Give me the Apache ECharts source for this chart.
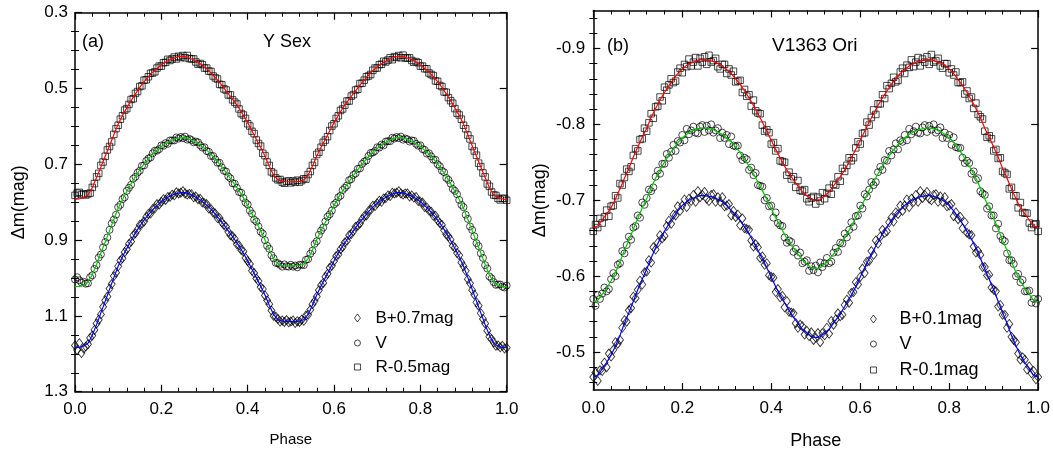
<!DOCTYPE html>
<html>
<head>
<meta charset="utf-8">
<script src="https://cdn.jsdelivr.net/npm/echarts@6/dist/echarts.min.js"></script>
<style>html,body{margin:0;padding:0;background:#fff}#c{width:1053px;height:456px}</style>
</head>
<body>
<div id="c"></div>
<script>
// ---------- DATA ----------
const phaseLine = [0,0.01,0.02,0.03,0.04,0.05,0.06,0.07,0.08,0.09,0.1,0.11,0.12,0.13,0.14,0.15,0.16,0.17,0.18,0.19,0.2,0.21,0.22,0.23,0.24,0.25,0.26,0.27,0.28,0.29,0.3,0.31,0.32,0.33,0.34,0.35,0.36,0.37,0.38,0.39,0.4,0.41,0.42,0.43,0.44,0.45,0.46,0.47,0.48,0.49,0.5,0.51,0.52,0.53,0.54,0.55,0.56,0.57,0.58,0.59,0.6,0.61,0.62,0.63,0.64,0.65,0.66,0.67,0.68,0.69,0.7,0.71,0.72,0.73,0.74,0.75,0.76,0.77,0.78,0.79,0.8,0.81,0.82,0.83,0.84,0.85,0.86,0.87,0.88,0.89,0.9,0.91,0.92,0.93,0.94,0.95,0.96,0.97,0.98,0.99,1];

const phasePts = [
0,0.005,0.01,0.015,0.02,0.025,0.03,0.035,0.04,0.045,0.05,0.055,0.06,0.065,0.07,0.075,0.08,0.085,0.09,0.095,
0.1,0.105,0.11,0.115,0.12,0.125,0.13,0.135,0.14,0.145,0.15,0.155,0.16,0.165,0.17,0.175,0.18,0.185,0.19,0.195,
0.2,0.205,0.21,0.215,0.22,0.225,0.23,0.235,0.24,0.245,0.25,0.255,0.26,0.265,0.27,0.275,0.28,0.285,0.29,0.295,
0.3,0.305,0.31,0.315,0.32,0.325,0.33,0.335,0.34,0.345,0.35,0.355,0.36,0.365,0.37,0.375,0.38,0.385,0.39,0.395,
0.4,0.405,0.41,0.415,0.42,0.425,0.43,0.435,0.44,0.445,0.45,0.455,0.46,0.465,0.47,0.475,0.48,0.485,0.49,0.495,
0.5,0.505,0.51,0.515,0.52,0.525,0.53,0.535,0.54,0.545,0.55,0.555,0.56,0.565,0.57,0.575,0.58,0.585,0.59,0.595,
0.6,0.605,0.61,0.615,0.62,0.625,0.63,0.635,0.64,0.645,0.65,0.655,0.66,0.665,0.67,0.675,0.68,0.685,0.69,0.695,
0.7,0.705,0.71,0.715,0.72,0.725,0.73,0.735,0.74,0.745,0.75,0.755,0.76,0.765,0.77,0.775,0.78,0.785,0.79,0.795,
0.8,0.805,0.81,0.815,0.82,0.825,0.83,0.835,0.84,0.845,0.85,0.855,0.86,0.865,0.87,0.875,0.88,0.885,0.89,0.895,
0.9,0.905,0.91,0.915,0.92,0.925,0.93,0.935,0.94,0.945,0.95,0.955,0.96,0.965,0.97,0.975,0.98,0.985,0.99,0.995,
1];

// Panel (a) Y Sex — fitted curves
const aRLine = [0.792,0.791,0.788,0.781,0.762,0.735,0.707,0.679,0.651,0.622,0.594,0.571,0.551,0.532,0.514,0.497,0.482,0.469,0.457,0.447,0.438,0.430,0.424,0.420,0.416,0.415,0.417,0.422,0.428,0.435,0.443,0.453,0.465,0.478,0.491,0.506,0.521,0.536,0.552,0.571,0.590,0.612,0.634,0.655,0.678,0.705,0.728,0.741,0.745,0.746,0.746,
0.746,0.745,0.741,0.728,0.705,0.678,0.655,0.634,0.612,0.590,0.571,0.552,0.536,0.521,0.506,0.491,0.478,0.465,0.453,0.443,0.435,0.428,0.422,0.417,0.415,0.416,0.420,0.424,0.430,0.438,0.447,0.457,0.469,0.482,0.497,0.514,0.532,0.551,0.571,0.594,0.622,0.651,0.679,0.707,0.735,0.762,0.781,0.788,0.791,0.793];
const aVLine = [1.023,1.022,1.019,1.011,0.992,0.964,0.934,0.905,0.875,0.845,0.816,0.793,0.772,0.751,0.732,0.715,0.699,0.685,0.673,0.663,0.653,0.645,0.639,0.634,0.631,0.629,0.631,0.636,0.642,0.649,0.658,0.668,0.680,0.693,0.707,0.722,0.738,0.753,0.770,0.788,0.809,0.831,0.853,0.875,0.899,0.926,0.949,0.963,0.967,0.968,0.968,
0.968,0.967,0.963,0.949,0.926,0.899,0.875,0.853,0.831,0.809,0.788,0.770,0.753,0.738,0.722,0.707,0.693,0.680,0.668,0.658,0.649,0.642,0.636,0.631,0.629,0.631,0.634,0.639,0.645,0.653,0.663,0.673,0.685,0.699,0.715,0.732,0.751,0.772,0.793,0.816,0.845,0.875,0.905,0.934,0.964,0.992,1.011,1.019,1.022,1.023];
const aBLine = [1.184,1.183,1.180,1.172,1.151,1.123,1.092,1.061,1.030,0.999,0.969,0.944,0.922,0.901,0.881,0.863,0.847,0.833,0.820,0.809,0.799,0.790,0.784,0.779,0.776,0.774,0.776,0.781,0.787,0.795,0.803,0.813,0.825,0.839,0.852,0.868,0.883,0.899,0.916,0.934,0.955,0.977,0.999,1.021,1.045,1.072,1.096,1.110,1.114,1.115,1.115,
1.115,1.114,1.110,1.096,1.072,1.045,1.021,0.999,0.977,0.955,0.934,0.916,0.899,0.883,0.868,0.852,0.839,0.825,0.813,0.803,0.795,0.787,0.781,0.776,0.774,0.776,0.779,0.784,0.790,0.799,0.809,0.820,0.833,0.847,0.863,0.881,0.901,0.922,0.944,0.969,0.999,1.030,1.061,1.092,1.123,1.151,1.172,1.180,1.183,1.184];

// Panel (a) observations
const aRPts = [
0.782,0.776,0.774,0.780,0.778,0.781,0.778,0.776,0.761,0.751,0.733,0.724,0.703,0.694,0.679,0.662,0.653,0.641,0.621,0.606,
0.597,0.581,0.572,0.557,0.553,0.542,0.529,0.527,0.513,0.508,0.495,0.493,0.478,0.477,0.469,0.460,0.459,0.456,0.446,0.441,
0.441,0.432,0.431,0.423,0.426,0.422,0.417,0.422,0.415,0.418,0.413,0.419,0.413,0.421,0.422,0.422,0.430,0.436,0.434,0.437,
0.446,0.446,0.454,0.455,0.467,0.472,0.475,0.489,0.490,0.501,0.504,0.517,0.517,0.530,0.536,0.541,0.554,0.566,0.570,0.579,
0.593,0.599,0.613,0.619,0.636,0.645,0.652,0.671,0.677,0.694,0.703,0.720,0.724,0.736,0.741,0.740,0.747,0.750,0.745,0.744,
0.749,0.744,0.747,0.742,0.747,0.743,0.738,0.739,0.727,0.719,0.703,0.695,0.674,0.668,0.655,0.642,0.636,0.627,0.611,0.599,
0.593,0.579,0.572,0.558,0.554,0.544,0.533,0.533,0.520,0.516,0.504,0.502,0.487,0.486,0.478,0.469,0.467,0.463,0.452,0.446,
0.446,0.437,0.436,0.428,0.430,0.425,0.419,0.424,0.416,0.418,0.413,0.419,0.412,0.419,0.420,0.419,0.426,0.431,0.429,0.432,
0.441,0.441,0.448,0.448,0.459,0.463,0.466,0.480,0.481,0.492,0.495,0.509,0.510,0.524,0.532,0.539,0.553,0.565,0.570,0.581,
0.597,0.606,0.623,0.633,0.653,0.665,0.676,0.697,0.706,0.723,0.733,0.752,0.758,0.773,0.781,0.782,0.790,0.794,0.790,0.790,
0.795];
const aVPts = [
1.004,0.998,1.006,1.012,1.010,1.015,1.014,0.998,0.993,0.976,0.966,0.946,0.938,0.919,0.905,0.893,0.873,0.856,0.846,0.833,
0.813,0.807,0.792,0.787,0.770,0.762,0.754,0.738,0.733,0.722,0.717,0.704,0.703,0.691,0.685,0.682,0.671,0.664,0.664,0.660,
0.650,0.651,0.644,0.646,0.637,0.637,0.637,0.629,0.632,0.628,0.631,0.627,0.635,0.633,0.636,0.642,0.640,0.642,0.650,0.656,
0.655,0.665,0.667,0.678,0.678,0.687,0.696,0.696,0.708,0.717,0.719,0.732,0.737,0.750,0.751,0.762,0.773,0.775,0.789,0.801,
0.806,0.822,0.830,0.846,0.851,0.864,0.878,0.883,0.900,0.915,0.923,0.940,0.948,0.960,0.961,0.965,0.970,0.964,0.969,0.970,
0.965,0.970,0.967,0.972,0.965,0.965,0.966,0.952,0.950,0.936,0.928,0.910,0.903,0.886,0.875,0.867,0.851,0.838,0.832,0.822,
0.806,0.801,0.787,0.783,0.768,0.762,0.756,0.742,0.739,0.728,0.724,0.712,0.711,0.699,0.693,0.690,0.678,0.670,0.669,0.665,
0.655,0.656,0.648,0.650,0.640,0.639,0.639,0.630,0.632,0.628,0.631,0.627,0.635,0.632,0.634,0.640,0.637,0.638,0.646,0.651,
0.650,0.660,0.662,0.672,0.671,0.679,0.688,0.688,0.700,0.705,0.717,0.721,0.736,0.741,0.751,0.765,0.770,0.779,0.794,0.807,
0.813,0.833,0.844,0.864,0.873,0.890,0.908,0.916,0.935,0.947,0.966,0.975,0.996,1.001,1.011,1.018,1.017,1.017,1.023,1.025,
1.020];
const aBPts = [
1.178,1.190,1.172,1.198,1.186,1.181,1.175,1.158,1.152,1.137,1.120,1.110,1.096,1.076,1.059,1.049,1.028,1.016,0.995,0.986,
0.969,0.954,0.948,0.932,0.924,0.910,0.904,0.887,0.882,0.872,0.860,0.857,0.851,0.839,0.831,0.830,0.818,0.816,0.805,0.806,
0.799,0.792,0.794,0.786,0.786,0.780,0.782,0.774,0.777,0.775,0.771,0.777,0.780,0.778,0.779,0.787,0.785,0.792,0.791,0.801,
0.803,0.805,0.817,0.818,0.827,0.830,0.842,0.842,0.853,0.860,0.865,0.878,0.887,0.890,0.897,0.911,0.914,0.926,0.930,0.947,
0.955,0.963,0.981,0.987,1.001,1.008,1.024,1.029,1.046,1.059,1.069,1.086,1.100,1.102,1.108,1.115,1.112,1.116,1.111,1.117,
1.115,1.112,1.119,1.114,1.116,1.110,1.113,1.099,1.097,1.084,1.069,1.061,1.049,1.032,1.019,1.013,0.997,0.989,0.973,0.968,
0.955,0.942,0.938,0.924,0.918,0.906,0.902,0.887,0.884,0.876,0.865,0.862,0.856,0.845,0.837,0.835,0.823,0.820,0.809,0.810,
0.803,0.796,0.799,0.790,0.789,0.782,0.784,0.775,0.777,0.775,0.771,0.777,0.780,0.777,0.777,0.785,0.782,0.788,0.786,0.797,
0.799,0.801,0.813,0.814,0.822,0.825,0.836,0.836,0.848,0.855,0.860,0.874,0.885,0.890,0.899,0.915,0.920,0.934,0.940,0.959,
0.969,0.981,1.003,1.014,1.032,1.044,1.064,1.073,1.093,1.108,1.120,1.139,1.155,1.161,1.170,1.179,1.178,1.183,1.179,1.186,
1.184];

// Panel (b) V1363 Ori — fitted curves
const bRLine = [-0.664,-0.666,-0.674,-0.682,-0.690,-0.702,-0.715,-0.729,-0.742,-0.757,-0.770,-0.783,-0.795,-0.809,-0.821,-0.832,-0.842,-0.851,-0.859,-0.867,-0.873,-0.878,-0.881,-0.883,-0.885,-0.885,-0.884,-0.883,-0.880,-0.877,-0.872,-0.867,-0.860,-0.853,-0.844,-0.835,-0.825,-0.814,-0.803,-0.791,-0.779,-0.767,-0.756,-0.745,-0.735,-0.727,-0.719,-0.711,-0.706,-0.701,-0.700,
-0.701,-0.706,-0.711,-0.719,-0.727,-0.735,-0.745,-0.756,-0.767,-0.779,-0.791,-0.803,-0.814,-0.825,-0.835,-0.844,-0.853,-0.860,-0.867,-0.872,-0.877,-0.880,-0.883,-0.884,-0.885,-0.885,-0.883,-0.881,-0.878,-0.873,-0.867,-0.859,-0.851,-0.842,-0.832,-0.821,-0.809,-0.795,-0.783,-0.770,-0.757,-0.742,-0.729,-0.715,-0.702,-0.690,-0.682,-0.674,-0.666,-0.664];
const bVLine = [-0.566,-0.568,-0.576,-0.584,-0.594,-0.605,-0.619,-0.634,-0.647,-0.662,-0.676,-0.690,-0.702,-0.716,-0.729,-0.740,-0.750,-0.760,-0.768,-0.776,-0.782,-0.787,-0.791,-0.793,-0.795,-0.795,-0.794,-0.793,-0.790,-0.787,-0.782,-0.777,-0.770,-0.763,-0.754,-0.745,-0.735,-0.724,-0.713,-0.701,-0.689,-0.677,-0.666,-0.655,-0.645,-0.637,-0.629,-0.621,-0.616,-0.611,-0.610,
-0.611,-0.616,-0.621,-0.629,-0.637,-0.645,-0.655,-0.666,-0.677,-0.689,-0.701,-0.713,-0.724,-0.735,-0.745,-0.754,-0.763,-0.770,-0.777,-0.782,-0.787,-0.790,-0.793,-0.794,-0.795,-0.795,-0.793,-0.791,-0.787,-0.782,-0.776,-0.768,-0.760,-0.750,-0.740,-0.729,-0.716,-0.702,-0.690,-0.676,-0.662,-0.647,-0.634,-0.619,-0.605,-0.594,-0.584,-0.576,-0.568,-0.566];
const bBLine = [-0.467,-0.469,-0.478,-0.486,-0.496,-0.508,-0.522,-0.538,-0.552,-0.567,-0.582,-0.596,-0.609,-0.624,-0.637,-0.649,-0.659,-0.669,-0.678,-0.686,-0.693,-0.698,-0.702,-0.704,-0.706,-0.706,-0.705,-0.704,-0.701,-0.698,-0.693,-0.687,-0.681,-0.673,-0.665,-0.656,-0.645,-0.634,-0.623,-0.611,-0.599,-0.586,-0.575,-0.565,-0.555,-0.546,-0.538,-0.530,-0.525,-0.520,-0.519,
-0.520,-0.525,-0.530,-0.538,-0.546,-0.555,-0.565,-0.575,-0.586,-0.599,-0.611,-0.623,-0.634,-0.645,-0.656,-0.665,-0.673,-0.681,-0.687,-0.693,-0.698,-0.701,-0.704,-0.705,-0.706,-0.706,-0.704,-0.702,-0.698,-0.693,-0.686,-0.678,-0.669,-0.659,-0.649,-0.637,-0.624,-0.609,-0.596,-0.582,-0.567,-0.552,-0.538,-0.522,-0.508,-0.496,-0.486,-0.478,-0.469,-0.467];

// Panel (b) observations
const bRPts = [
-0.659,-0.668,-0.664,-0.676,-0.670,-0.678,-0.687,-0.679,-0.692,-0.693,-0.706,-0.703,-0.722,-0.720,-0.730,-0.741,-0.738,-0.744,-0.759,-0.768,
-0.765,-0.780,-0.781,-0.795,-0.791,-0.802,-0.814,-0.808,-0.823,-0.824,-0.836,-0.831,-0.849,-0.845,-0.852,-0.860,-0.855,-0.857,-0.869,-0.874,
-0.868,-0.879,-0.876,-0.886,-0.877,-0.882,-0.888,-0.877,-0.887,-0.882,-0.889,-0.879,-0.891,-0.882,-0.884,-0.887,-0.876,-0.873,-0.879,-0.879,
-0.867,-0.873,-0.865,-0.870,-0.856,-0.857,-0.858,-0.842,-0.846,-0.837,-0.839,-0.824,-0.832,-0.818,-0.815,-0.814,-0.799,-0.791,-0.793,-0.789,
-0.774,-0.776,-0.765,-0.768,-0.752,-0.751,-0.750,-0.733,-0.737,-0.728,-0.731,-0.717,-0.726,-0.713,-0.712,-0.714,-0.702,-0.698,-0.703,-0.705,
-0.695,-0.704,-0.699,-0.710,-0.702,-0.709,-0.716,-0.708,-0.721,-0.720,-0.731,-0.725,-0.742,-0.738,-0.746,-0.756,-0.752,-0.756,-0.769,-0.777,
-0.774,-0.788,-0.789,-0.803,-0.799,-0.809,-0.819,-0.813,-0.827,-0.827,-0.839,-0.834,-0.851,-0.847,-0.854,-0.862,-0.856,-0.858,-0.869,-0.874,
-0.867,-0.878,-0.875,-0.885,-0.876,-0.882,-0.888,-0.877,-0.886,-0.882,-0.889,-0.879,-0.892,-0.882,-0.884,-0.887,-0.877,-0.874,-0.880,-0.880,
-0.868,-0.873,-0.865,-0.869,-0.855,-0.855,-0.856,-0.840,-0.844,-0.834,-0.836,-0.821,-0.828,-0.813,-0.810,-0.807,-0.791,-0.783,-0.785,-0.781,
-0.765,-0.767,-0.755,-0.756,-0.738,-0.736,-0.734,-0.715,-0.717,-0.706,-0.706,-0.690,-0.697,-0.684,-0.683,-0.683,-0.670,-0.664,-0.668,-0.669,
-0.659];
const bVPts = [
-0.570,-0.561,-0.575,-0.570,-0.577,-0.585,-0.580,-0.583,-0.596,-0.604,-0.600,-0.615,-0.617,-0.633,-0.630,-0.641,-0.652,-0.648,-0.664,-0.666,
-0.680,-0.677,-0.697,-0.694,-0.703,-0.714,-0.712,-0.717,-0.731,-0.739,-0.735,-0.748,-0.748,-0.761,-0.756,-0.764,-0.773,-0.765,-0.778,-0.776,
-0.786,-0.779,-0.794,-0.787,-0.792,-0.797,-0.789,-0.788,-0.797,-0.799,-0.790,-0.798,-0.792,-0.800,-0.789,-0.792,-0.795,-0.782,-0.789,-0.782,
-0.786,-0.774,-0.784,-0.772,-0.771,-0.772,-0.759,-0.753,-0.756,-0.754,-0.740,-0.743,-0.733,-0.736,-0.720,-0.719,-0.718,-0.700,-0.703,-0.692,
-0.693,-0.677,-0.684,-0.670,-0.667,-0.666,-0.651,-0.644,-0.647,-0.645,-0.632,-0.636,-0.627,-0.631,-0.617,-0.619,-0.621,-0.607,-0.613,-0.608,
-0.614,-0.605,-0.618,-0.612,-0.617,-0.624,-0.617,-0.619,-0.631,-0.637,-0.632,-0.644,-0.643,-0.656,-0.651,-0.661,-0.671,-0.665,-0.679,-0.680,
-0.693,-0.689,-0.708,-0.705,-0.714,-0.724,-0.720,-0.724,-0.737,-0.744,-0.740,-0.753,-0.752,-0.765,-0.759,-0.767,-0.775,-0.767,-0.779,-0.777,
-0.786,-0.779,-0.794,-0.787,-0.791,-0.797,-0.789,-0.788,-0.796,-0.799,-0.790,-0.798,-0.793,-0.800,-0.789,-0.792,-0.796,-0.782,-0.789,-0.782,
-0.786,-0.773,-0.783,-0.770,-0.769,-0.769,-0.756,-0.749,-0.752,-0.749,-0.735,-0.738,-0.727,-0.729,-0.712,-0.709,-0.707,-0.689,-0.692,-0.680,
-0.680,-0.663,-0.669,-0.653,-0.648,-0.646,-0.630,-0.621,-0.621,-0.616,-0.600,-0.603,-0.592,-0.595,-0.580,-0.580,-0.581,-0.565,-0.570,-0.564,
-0.570];
const bBPts = [
-0.467,-0.473,-0.462,-0.476,-0.475,-0.486,-0.480,-0.498,-0.494,-0.503,-0.513,-0.511,-0.516,-0.532,-0.542,-0.540,-0.555,-0.558,-0.573,-0.571,
-0.582,-0.594,-0.589,-0.605,-0.606,-0.621,-0.618,-0.638,-0.635,-0.644,-0.654,-0.650,-0.653,-0.666,-0.673,-0.669,-0.681,-0.680,-0.692,-0.686,
-0.693,-0.701,-0.691,-0.702,-0.699,-0.707,-0.698,-0.712,-0.704,-0.707,-0.711,-0.702,-0.699,-0.707,-0.708,-0.698,-0.704,-0.698,-0.704,-0.692,
-0.693,-0.695,-0.680,-0.686,-0.678,-0.681,-0.667,-0.676,-0.663,-0.662,-0.661,-0.647,-0.639,-0.642,-0.638,-0.624,-0.626,-0.615,-0.617,-0.601,
-0.599,-0.598,-0.579,-0.583,-0.572,-0.574,-0.559,-0.567,-0.553,-0.552,-0.551,-0.538,-0.532,-0.536,-0.534,-0.523,-0.528,-0.521,-0.526,-0.516,
-0.519,-0.525,-0.513,-0.525,-0.522,-0.532,-0.524,-0.541,-0.536,-0.543,-0.551,-0.547,-0.549,-0.562,-0.569,-0.565,-0.578,-0.579,-0.592,-0.589,
-0.599,-0.610,-0.604,-0.619,-0.620,-0.633,-0.628,-0.647,-0.643,-0.652,-0.661,-0.657,-0.659,-0.671,-0.677,-0.672,-0.684,-0.682,-0.693,-0.686,
-0.693,-0.701,-0.691,-0.702,-0.698,-0.707,-0.698,-0.712,-0.703,-0.707,-0.711,-0.702,-0.700,-0.707,-0.708,-0.698,-0.705,-0.698,-0.704,-0.692,
-0.693,-0.695,-0.679,-0.684,-0.675,-0.678,-0.663,-0.671,-0.657,-0.655,-0.654,-0.639,-0.631,-0.633,-0.628,-0.612,-0.612,-0.601,-0.602,-0.585,
-0.582,-0.580,-0.560,-0.562,-0.549,-0.549,-0.532,-0.537,-0.520,-0.516,-0.513,-0.498,-0.490,-0.493,-0.490,-0.477,-0.481,-0.472,-0.475,-0.464,
-0.467];

// Ticks
const aYMajor = [0.3,0.5,0.7,0.9,1.1,1.3];
const aYMinor = [0.35,0.4,0.45,0.55,0.6,0.65,0.75,0.8,0.85,0.95,1.0,1.05,1.15,1.2,1.25];
const bYMajor = [-0.9,-0.8,-0.7,-0.6,-0.5];
const bYMinor = [-0.94,-0.92,-0.88,-0.86,-0.84,-0.82,-0.78,-0.76,-0.74,-0.72,-0.68,-0.66,-0.64,-0.62,-0.58,-0.56,-0.54,-0.52,-0.48,-0.46];

const aNames = ['B+0.7mag','V','R-0.5mag'];
const bNames = ['B+0.1mag','V','R-0.1mag'];

// ---------- CHART ----------
const FONT = 'Liberation Sans, Arial, Helvetica, sans-serif';
const AXL = {color:'#000', width:1.5};
const TKL = {color:'#000', width:1.2};

function xAxes(g, nameSize, nameGap, labelSize, margin){
  const base = {type:'value', gridIndex:g, min:0, max:1, interval:0.2,
    axisLine:{show:true, onZero:false, lineStyle:AXL},
    axisTick:{show:true, inside:true, length:7, lineStyle:TKL},
    minorTick:{show:true, splitNumber:5, length:4, lineStyle:{color:'#000', width:1}},
    splitLine:{show:false}, minorSplitLine:{show:false}};
  return [
    Object.assign({}, base, {position:'bottom',
      axisLabel:{show:true, fontSize:labelSize, color:'#000', fontFamily:FONT, margin:margin, formatter:v=>v.toFixed(1)},
      name:'Phase', nameLocation:'middle', nameGap:nameGap,
      nameTextStyle:{fontSize:nameSize, color:'#000', fontFamily:FONT}}),
    Object.assign({}, base, {position:'top', axisLabel:{show:false}})
  ];
}
function yAxes(g, min, max, majors, minors, labelSize, margin, nameGap, nameSize){
  const base = {type:'value', gridIndex:g, min:min, max:max, inverse:true,
    splitLine:{show:false}, axisLine:{show:true, onZero:false, lineStyle:AXL}};
  const major = (pos, lab) => Object.assign({}, base, {position:pos,
    axisTick:{show:true, inside:true, length:7, lineStyle:TKL, customValues:majors},
    axisLabel:lab ? {show:true, customValues:majors, fontSize:labelSize, color:'#000', fontFamily:FONT, margin:margin} : {show:false}},
    lab ? {name:'Δm(mag)', nameLocation:'middle', nameGap:nameGap, nameRotate:90,
      nameTextStyle:{fontSize:nameSize, color:'#000', fontFamily:FONT}} : {});
  const minor = pos => Object.assign({}, base, {position:pos, axisLine:{show:false},
    axisTick:{show:true, inside:true, length:4, lineStyle:{color:'#000', width:1}, customValues:minors},
    axisLabel:{show:false}});
  return [major('left', true), minor('left'), major('right', false), minor('right')];
}

const SYM = [['diamond',[7,9]],['circle',7],['rect',6.5]];
const LEGSYM = [[6,8],[6,6],[6,6]];
const LINECOL = ['#0000ff','#00cc00','#ff0000'];
function pts(name, arr, k, xi, yi){
  return {type:'scatter', name:name, xAxisIndex:xi, yAxisIndex:yi, z:2,
    symbol:SYM[k][0], symbolSize:SYM[k][1],
    itemStyle:{color:'rgba(255,255,255,0)', borderColor:'#000', borderWidth:0.9},
    data: phasePts.map((p,i)=>[p, arr[i]])};
}
function fit(arr, k, xi, yi){
  return {type:'line', xAxisIndex:xi, yAxisIndex:yi, z:5, showSymbol:false, symbol:'none',
    lineStyle:{color:LINECOL[k], width:1.2}, data: phaseLine.map((p,i)=>[p, arr[i]])};
}
// legend: icon centred at iconX, text starting at textX, row centre cy
function legend(name, k, iconX, textX, cy, size){
  const w = LEGSYM[k][0], h = LEGSYM[k][1];
  return {data:[{name:name, icon:SYM[k][0]}], left:iconX - w/2, top:cy - 10, orient:'vertical', align:'left',
    padding:0, itemGap:0, itemWidth:w, itemHeight:h, selectedMode:false,
    itemStyle:{color:'rgba(255,255,255,0)', borderColor:'#000', borderWidth:0.9},
    textStyle:{fontSize:size, color:'#000', fontFamily:FONT, lineHeight:20,
      padding:[0,0,0, textX - (iconX - w/2) - w - 5]}};
}

const chart = echarts.init(document.getElementById('c'), null, {renderer:'canvas'});
chart.setOption({
  animation:false,
  backgroundColor:'#fff',
  textStyle:{fontFamily:FONT},
  grid:[{left:75, top:12.7, width:431.7, height:379},
        {left:593.3, top:10.5, width:445, height:379.5}],
  xAxis:[].concat(xAxes(0, 15, 41, 17, 9), xAxes(1, 18, 42, 17, 10)),
  yAxis:[].concat(yAxes(0, 0.3, 1.3, aYMajor, aYMinor, 17, 7, 47, 18),
                  yAxes(1, -0.95, -0.45, bYMajor, bYMinor, 17, 8, 44, 18)),
  legend:[
    legend(aNames[0], 0, 357, 375, 318, 17), legend(aNames[1], 1, 357, 375, 343, 17), legend(aNames[2], 2, 357, 375, 367, 17),
    legend(bNames[0], 0, 873, 899, 319, 18), legend(bNames[1], 1, 873, 899, 344, 18), legend(bNames[2], 2, 873, 899, 370, 18)
  ],
  graphic:[
    {type:'text', x:82, y:42, style:{text:'(a)', fontSize:18, fill:'#000', fontFamily:FONT, verticalAlign:'middle'}},
    {type:'text', x:263, y:42, style:{text:'Y Sex', fontSize:18, fill:'#000', fontFamily:FONT, verticalAlign:'middle'}},
    {type:'text', x:607, y:46, style:{text:'(b)', fontSize:18, fill:'#000', fontFamily:FONT, verticalAlign:'middle'}},
    {type:'text', x:772, y:46, style:{text:'V1363 Ori', fontSize:19, fill:'#000', fontFamily:FONT, verticalAlign:'middle'}}
  ],
  series:[
    pts(aNames[0], aBPts, 0, 0, 0), pts(aNames[1], aVPts, 1, 0, 0), pts(aNames[2], aRPts, 2, 0, 0),
    fit(aBLine, 0, 0, 0), fit(aVLine, 1, 0, 0), fit(aRLine, 2, 0, 0),
    pts(bNames[0], bBPts, 0, 2, 4), pts(bNames[1], bVPts, 1, 2, 4), pts(bNames[2], bRPts, 2, 2, 4),
    fit(bBLine, 0, 2, 4), fit(bVLine, 1, 2, 4), fit(bRLine, 2, 2, 4)
  ]
});
</script>
</body>
</html>
